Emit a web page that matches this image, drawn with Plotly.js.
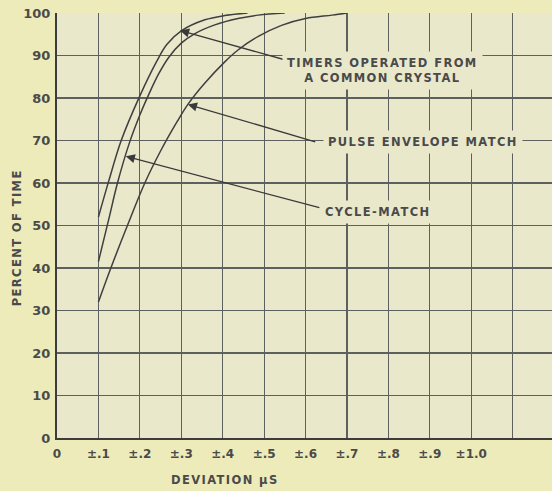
<!DOCTYPE html>
<html>
<head>
<meta charset="utf-8">
<script src="https://cdn.plot.ly/plotly-3.0.1.min.js"></script>
<style>
  html, body { margin: 0; padding: 0; background: #eeebbb; }
  #chart { width: 552px; height: 491px; }
  text.annotation-text { letter-spacing: 1.4px; }
</style>
</head>
<body>
<div id="chart"></div>
<script>
// ---- data ----
const crystalX = [0.1, 0.125, 0.155, 0.2, 0.24, 0.265, 0.3, 0.357, 0.405, 0.46];
const crystalY = [52, 60.5, 70, 80.5, 88.5, 92.6, 95.8, 98.4, 99.4, 100];

const cycleX = [0.1, 0.125, 0.146, 0.175, 0.2, 0.22, 0.245, 0.27, 0.3, 0.332, 0.381, 0.437, 0.486, 0.55];
const cycleY = [41.5, 51.5, 60, 69.5, 76, 80.5, 85.6, 89.6, 92.9, 95.1, 97.2, 98.7, 99.5, 100];

const pulseX = [0.1, 0.13, 0.17, 0.212, 0.251, 0.291, 0.316, 0.356, 0.405, 0.437, 0.486, 0.542, 0.6, 0.664, 0.7];
const pulseY = [32, 40, 50, 60, 67.7, 74.6, 78.5, 83.4, 88.5, 91.3, 94.5, 97.1, 98.7, 99.5, 100];

const xTickVals = [0, 0.1, 0.2, 0.3, 0.4, 0.5, 0.6, 0.7, 0.8, 0.9, 1.0, 1.1];
const xTickText = ['0', '±.1', '±.2', '±.3', '±.4', '±.5', '±.6', '±.7', '±.8', '±.9', '±1.0', ''];
const yTickVals = [0, 10, 20, 30, 40, 50, 60, 70, 80, 90, 100];

const labelTexts = ['TIMERS OPERATED FROM<br>A COMMON CRYSTAL', 'PULSE ENVELOPE MATCH', 'CYCLE-MATCH'];
const labelX = [0.785, 0.8825, 0.776];
const labelY = [86.5, 69.6, 53.1];
const arrowTipX = [0.297, 0.316, 0.166];
const arrowTipY = [95.9, 78.5, 66.3];
const arrowTailX = [0.553, 0.627, 0.637];
const arrowTailY = [88.9, 69.6, 54.1];

const xTitle = 'DEVIATION μS';
const yTitle = 'PERCENT OF TIME';

// ---- styling ----
const ink = '#4a4a4a';
const gridInk = '#5e6060';
const plotBg = '#e9e8cb';
const fontFam = 'DejaVu Sans, sans-serif';

const lineStyle = { color: '#3f3f3f', width: 1.5, shape: 'spline', smoothing: 1 };
const traces = [
  { x: crystalX, y: crystalY, mode: 'lines', line: lineStyle, hoverinfo: 'skip', cliponaxis: false },
  { x: cycleX, y: cycleY, mode: 'lines', line: lineStyle, hoverinfo: 'skip', cliponaxis: false },
  { x: pulseX, y: pulseY, mode: 'lines', line: lineStyle, hoverinfo: 'skip', cliponaxis: false }
];

const annotations = [];
for (let i = 0; i < labelTexts.length; i++) {
  annotations.push({
    x: arrowTipX[i], y: arrowTipY[i], xref: 'x', yref: 'y',
    ax: arrowTailX[i], ay: arrowTailY[i], axref: 'x', ayref: 'y',
    text: '', showarrow: true, arrowhead: 2, arrowsize: 1.4, arrowwidth: 1.3,
    arrowcolor: '#3a3a3a', standoff: 0
  });
  annotations.push({
    x: labelX[i], y: labelY[i], xref: 'x', yref: 'y',
    text: labelTexts[i], showarrow: false, align: 'center',
    xanchor: 'center', yanchor: 'middle',
    bgcolor: plotBg, borderpad: 4,
    font: { family: fontFam, size: 11.5, color: ink, weight: 'bold' }
  });
}
annotations.push({
  x: 0.34, y: 0, xref: 'paper', yref: 'paper', yshift: -33,
  xanchor: 'center', yanchor: 'top', showarrow: false, text: xTitle,
  font: { family: fontFam, size: 11.5, color: ink, weight: 'bold' }
});
annotations.push({
  x: 0, y: 0.47, xref: 'paper', yref: 'paper', xshift: -40,
  xanchor: 'center', yanchor: 'middle', showarrow: false, text: yTitle, textangle: -90,
  font: { family: fontFam, size: 11.5, color: ink, weight: 'bold' }
});

const layout = {
  width: 552, height: 491,
  margin: { l: 57, r: 0, t: 13, b: 53, pad: 0 },
  paper_bgcolor: '#eeebbb',
  plot_bgcolor: plotBg,
  showlegend: false,
  xaxis: {
    range: [0, 1.195], tickvals: xTickVals, ticktext: xTickText,
    showgrid: true, gridcolor: gridInk, gridwidth: 1.1, zeroline: false,
    showline: true, linecolor: '#3c3c3c', linewidth: 2, ticks: '',
    ticklabelstandoff: 4,
    tickfont: { family: fontFam, size: 12, color: ink, weight: 'bold' }
  },
  yaxis: {
    range: [0, 100], tickvals: yTickVals,
    showgrid: true, gridcolor: gridInk, gridwidth: 1.1, zeroline: false,
    showline: true, linecolor: '#3c3c3c', linewidth: 2, ticks: '',
    ticklabelstandoff: 2,
    tickfont: { family: fontFam, size: 13, color: ink, weight: 'bold' }
  },
  annotations: annotations
};

Plotly.newPlot('chart', traces, layout, { staticPlot: true });
</script>
</body>
</html>
